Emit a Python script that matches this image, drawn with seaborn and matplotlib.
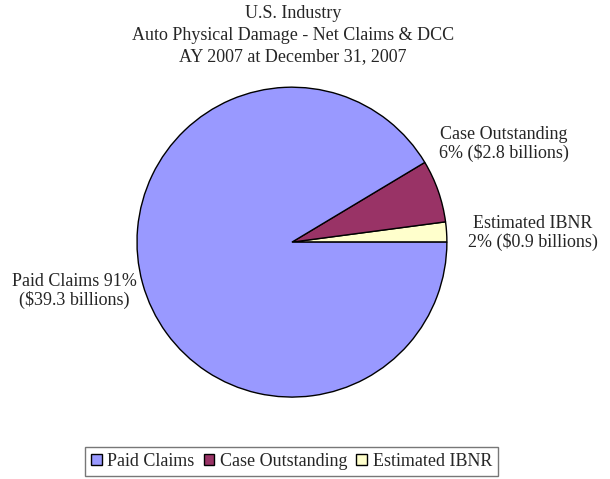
import matplotlib
matplotlib.use("Agg")
import matplotlib.pyplot as plt
import seaborn as sns
from matplotlib.patches import Patch

categories = ["Estimated IBNR", "Case Outstanding", "Paid Claims"]
values = [0.9, 2.8, 39.3]
label_texts = ["Estimated IBNR\n2% ($0.9 billions)",
               "Case Outstanding\n6% ($2.8 billions)",
               "Paid Claims 91%\n($39.3 billions)"]
legend_order = ["Paid Claims", "Case Outstanding", "Estimated IBNR"]
title_lines = ["U.S. Industry", "Auto Physical Damage - Net Claims & DCC", "AY 2007 at December 31, 2007"]

sns.set_theme(style="white")
plt.rcParams['font.family'] = ['Liberation Serif', 'DejaVu Serif']
plt.rcParams['mathtext.default'] = 'regular'

colors = sns.color_palette(["#FFFFCC", "#993366", "#9999FF"])
cmap = dict(zip(categories, colors))

fig = plt.figure(figsize=(6.10, 4.79), dpi=100)
ax = fig.add_axes([0.2246, 0.171, 0.508, 0.647])
ax.pie(values, colors=colors, startangle=0, counterclock=True,
       wedgeprops=dict(edgecolor="black", linewidth=1.0))
ax.set_xlim(-1.0, 1.0)
ax.set_ylim(-1.0, 1.0)
ax.set_aspect("equal")

fs = 13
ls = 1.05
ax.text(1.555, 0.06, label_texts[0].replace("$", r"\$"), ha="center", va="center", fontsize=fs, linespacing=ls, clip_on=False)
ax.text(1.368, 0.632, label_texts[1].replace("$", r"\$"), ha="center", va="center", fontsize=fs, linespacing=ls, clip_on=False)
ax.text(-1.403, -0.316, label_texts[2].replace("$", r"\$"), ha="center", va="center", fontsize=fs, linespacing=ls, clip_on=False)

for i, line in enumerate(title_lines):
    fig.text(293 / 610, 1 - (13 + 22 * i) / 479, line, ha="center", va="center", fontsize=fs)

handles = [Patch(facecolor=cmap[c], edgecolor="black", linewidth=1.0) for c in legend_order]
leg = fig.legend(handles, legend_order, loc="center", bbox_to_anchor=(291.5 / 610, 1 - 461.5 / 479),
                 ncol=3, frameon=True, fontsize=fs, handlelength=0.6, handleheight=0.6,
                 handletextpad=0.3, columnspacing=0.5, borderpad=0.35, borderaxespad=0, fancybox=False)
leg.get_frame().set_edgecolor("#555555")
leg.get_frame().set_linewidth(1.0)

fig.savefig("out.png", dpi=100, facecolor="white")
